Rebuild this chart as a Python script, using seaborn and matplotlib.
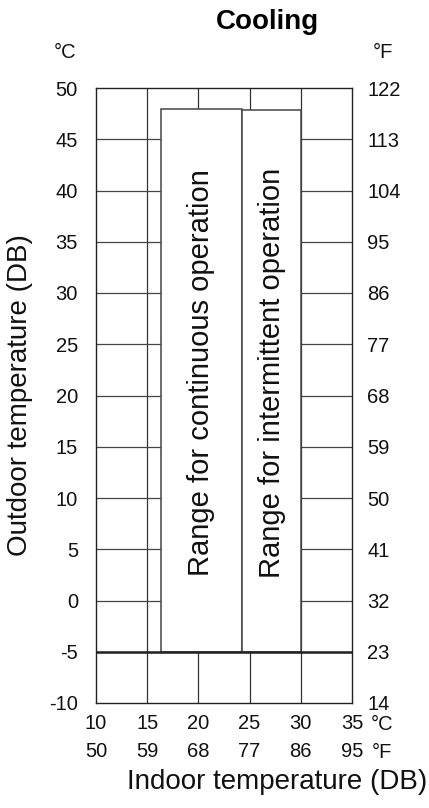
import matplotlib.pyplot as plt
import seaborn as sns

# valores
indoor_c = [10, 15, 20, 25, 30, 35]
indoor_f = [50, 59, 68, 77, 86, 95]
outdoor_c = [-10, -5, 0, 5, 10, 15, 20, 25, 30, 35, 40, 45, 50]
outdoor_f = [14, 23, 32, 41, 50, 59, 68, 77, 86, 95, 104, 113, 122]

range_names = ["Range for continuous operation", "Range for intermittent operation"]
range_left = [16.3, 24.3]
range_right = [24.3, 30.0]
range_bottom = [-5, -5]
range_top = [48.0, 47.9]

sns.set_theme(style="white")
plt.rcParams['font.family'] = ['Liberation Sans', 'DejaVu Sans']
plt.rcParams['text.color'] = "#111111"

fig = plt.figure(figsize=(4.29, 8.08), dpi=100)
ax = fig.add_axes([96 / 429, 105 / 808, 256 / 429, 615 / 808])

ax.set_xlim(indoor_c[0], indoor_c[-1])
ax.set_ylim(outdoor_c[0], outdoor_c[-1])

# rejilla
for x in indoor_c[1:-1]:
    ax.axvline(x, color="#333333", lw=0.9, zorder=1)
for y in outdoor_c[1:-1]:
    ax.axhline(y, color="#444444", lw=0.9, zorder=1)
ax.axhline(-5, color="#222222", lw=1.8, zorder=3)

# zonas de funcionamiento
for name, l, r, b, t in zip(range_names, range_left, range_right, range_bottom, range_top):
    ax.bar(l, t - b, width=r - l, bottom=b, align="edge", color="white",
           edgecolor="#444444", linewidth=1.1, zorder=2)
    ax.text((l + r) / 2, 22.2, name, rotation=90, ha="center", va="center",
            fontsize=21, zorder=4)

for s in ax.spines.values():
    s.set_color("#222222")
    s.set_linewidth(1.0)

ax.set_yticks(outdoor_c)
ax.set_yticklabels([str(v) for v in outdoor_c])
ax.set_xticks(indoor_c)
ax.set_xticklabels([f"{c}\n{f}" for c, f in zip(indoor_c, indoor_f)])
ax.tick_params(axis="y", length=0, pad=13, labelsize=14.5, labelcolor="#111111")
ax.tick_params(axis="x", length=0, pad=8, labelsize=14.5, labelcolor="#111111")
plt.setp(ax.get_xticklabels(), linespacing=1.62)

ax2 = ax.twinx()
ax2.set_ylim(outdoor_c[0], outdoor_c[-1])
ax2.set_yticks(outdoor_c)
ax2.set_yticklabels([str(v) for v in outdoor_f])
ax2.tick_params(axis="y", length=0, pad=11, labelsize=14.5, labelcolor="#111111")
for s in ax2.spines.values():
    s.set_visible(False)

W, H = 429, 808
fig.text(65 / W, 1 - 53 / H, "°C", fontsize=14.5, ha="center", va="center")
fig.text(383 / W, 1 - 53 / H, "°F", fontsize=14.5, ha="center", va="center")
fig.text(382 / W, 1 - 725 / H, "°C", fontsize=14.5, ha="center", va="center")
fig.text(382 / W, 1 - 752 / H, "°F", fontsize=14.5, ha="center", va="center")

fig.text(267 / W, 1 - 22 / H, "Cooling", fontsize=20, fontweight="bold", ha="center", va="center",
         color="black")
fig.text(20 / W, 1 - 395 / H, "Outdoor temperature (DB)", fontsize=20, rotation=90,
         ha="center", va="center")
fig.text(427 / W, 1 - 782 / H, "Indoor temperature (DB)", fontsize=20,
         ha="right", va="center")

fig.savefig("out.png", dpi=100)
